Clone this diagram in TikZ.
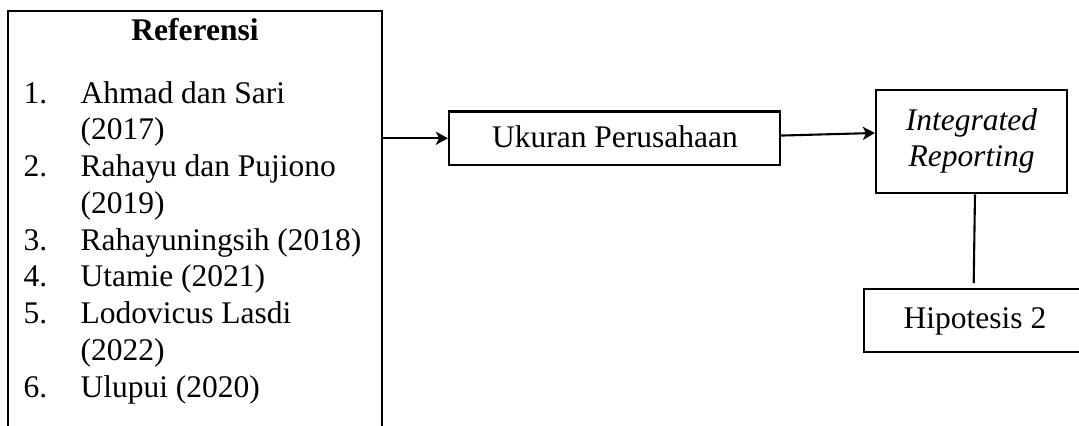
\documentclass[tikz,border=0pt]{standalone}
\usepackage{fontspec}
\setmainfont{Liberation Serif}
\usetikzlibrary{arrows.meta,fit}
\begin{document}
\begin{tikzpicture}[x=0.381pt,y=-0.381pt,
  font=\fontsize{12pt}{14pt}\selectfont,
  box/.style={draw, line width=0.8pt, inner sep=0pt},
  txt/.style={anchor=base west, inner sep=0pt},
  ctxt/.style={anchor=base, inner sep=0pt},
  arr/.style={line width=0.8pt, -{Stealth[length=4.6pt, width=5pt, inset=1.2pt]}},
  link/.style={line width=0.8pt}]
\clip (0,0) rectangle (1079,425);
\fill[white] (0,0) rectangle (1079,425);
% boxes
\node[box, fit={(8,11) (382,445)}] (ref) {};
\node[box, fit={(449,111.5) (780,165)}] (u) {};
\node[box, fit={(876,90) (1067,193.3)}] (ir) {};
\node[box, fit={(864,289.3) (1088,351.7)}] (h) {};
% left box text
\node[ctxt, font=\fontsize{12pt}{14pt}\selectfont\bfseries] (t0) at (195,40) {Referensi};
\node[txt] (n1) at (23,103) {1.};
\node[txt] (a1) at (80,103) {Ahmad dan Sari};
\node[txt] (a1b) at (80,139.75) {(2017)};
\node[txt] (n2) at (23,176.5) {2.};
\node[txt] (a2) at (80,176.5) {Rahayu dan Pujiono};
\node[txt] (a2b) at (80,213.25) {(2019)};
\node[txt] (n3) at (23,250) {3.};
\node[txt] (a3) at (80,250) {Rahayuningsih (2018)};
\node[txt] (n4) at (23,286.75) {4.};
\node[txt] (a4) at (80,286.75) {Utamie (2021)};
\node[txt] (n5) at (23,323.5) {5.};
\node[txt] (a5) at (80,323.5) {Lodovicus Lasdi};
\node[txt] (a5b) at (80,360.25) {(2022)};
\node[txt] (n6) at (23,397) {6.};
\node[txt] (a6) at (80,397) {Ulupui (2020)};
% other texts
\node[ctxt] (ut) at (615,147) {Ukuran Perusahaan};
\node[ctxt, font=\fontsize{12pt}{14pt}\selectfont\itshape] (it1) at (971.5,130) {Integrated};
\node[ctxt, font=\fontsize{12pt}{14pt}\selectfont\itshape] (it2) at (971.5,166.7) {Reporting};
\node[ctxt] (ht) at (975,328) {Hipotesis 2};
% connectors
\draw[arr] (ref.east |- u.west) -- (u.west);
\draw[arr] ([yshift=1.03pt]u.east) -- ([yshift=3.3pt]ir.west);
\draw[link] ([xshift=1.33pt]ir.south) -- ([xshift=-0.88pt,yshift=2pt]h.north);
\end{tikzpicture}
\end{document}
